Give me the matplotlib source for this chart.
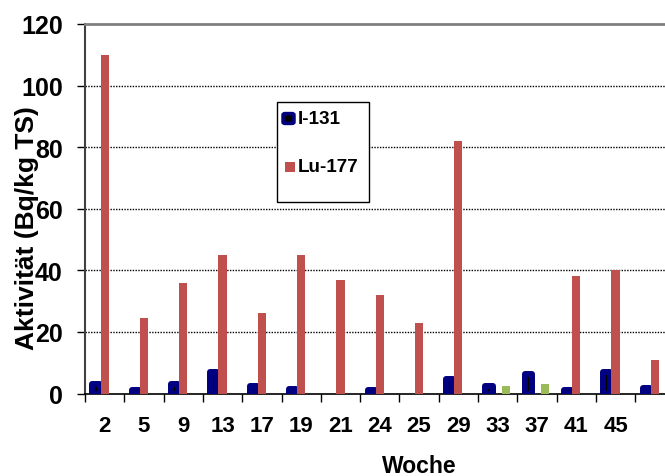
import numpy as np
import matplotlib.pyplot as plt
from matplotlib.patches import Rectangle, FancyBboxPatch

plt.rcParams['font.family'] = ['Liberation Sans', 'DejaVu Sans']
plt.rcParams['font.weight'] = 'bold'

weeks = ['2', '5', '9', '13', '17', '19', '21', '24', '25', '29', '33', '37', '41', '45', '']
i131 = [3.2, 1.2, 3.2, 7.0, 2.3, 1.5, 0, 1.0, 0, 4.7, 2.5, 6.3, 1.2, 7.0, 1.8]
lu177 = [110, 24.5, 36, 45, 26, 45, 37, 32, 23, 82, 0, 0, 38, 40, 11]
other = [0, 0, 0, 0, 0, 0, 0, 0, 0, 0, 2.5, 3.0, 0, 0, 0]

W, H = 665, 477
fig = plt.figure(figsize=(W / 100, H / 100), dpi=100)

def fx(px):
    return px / W

def fy(py):
    return 1 - py / H

# plot area runs past the right edge of the figure
ax = fig.add_axes([fx(85), fy(394.5), 15 * 39.3 / W, (394.5 - 25) / H])

x = np.arange(len(weeks))
blue = ax.bar(x - 0.22, i131, width=0.18, color='black', edgecolor='#000080',
              linewidth=4.3, zorder=3)
for b, v in zip(blue, i131):
    b.set_joinstyle('round')
    if v == 0:
        b.set_visible(False)
ax.bar(x, lu177, width=0.21, color='#C0504D', zorder=4)
ax.bar(x + 0.21, other, width=0.2, color='#9BBB59', zorder=4)

ax.set_xlim(-0.5, len(weeks) - 0.5)
ax.set_ylim(0, 120)
ax.set_yticks(np.arange(0, 121, 20))
ax.tick_params(axis='y', labelsize=18, length=6, width=1, direction='out', pad=10)
ax.set_xticks(x)
ax.set_xticklabels(weeks)
ax.set_xticks(np.arange(-0.5, len(weeks), 1), minor=True)
ax.tick_params(axis='x', which='major', length=0, labelsize=16, pad=15.5)
ax.tick_params(axis='x', which='minor', length=6, width=1, direction='out')

for yv in range(20, 120, 20):
    ax.axhline(yv, color='black', lw=1, ls=(0, (1, 1)), zorder=1)

ax.spines['top'].set_color('#808080')
ax.spines['top'].set_linewidth(2)
ax.spines['left'].set_color('#404040')
ax.spines['left'].set_linewidth(1.5)
ax.spines['bottom'].set_linewidth(1.2)
ax.spines['right'].set_visible(False)

fig.text(fx(27), fy(228), 'Aktivität (Bq/kg TS)', rotation=90, fontsize=19,
         fontweight='bold', ha='center', va='center')
fig.text(fx(419), fy(467), 'Woche', fontsize=16.5, fontweight='bold',
         ha='center', va='center')

# legend box
fig.add_artist(Rectangle((fx(277), fy(203)), fx(369) - fx(277), fy(103) - fy(203),
                         transform=fig.transFigure, facecolor='white',
                         edgecolor='black', lw=1, zorder=10))
fig.add_artist(FancyBboxPatch((fx(285), fy(123)), fx(7), fy(0) - fy(7),
                              boxstyle='round,pad=0.003', transform=fig.transFigure,
                              facecolor='black', edgecolor='#000080', lw=2.5, zorder=11))
fig.add_artist(Rectangle((fx(285), fy(173)), fx(10), fy(0) - fy(10),
                         transform=fig.transFigure, facecolor='#C0504D',
                         edgecolor='none', zorder=11))
fig.text(fx(298), fy(119), 'I-131', fontsize=13.6, fontweight='bold',
         ha='left', va='center', zorder=12)
fig.text(fx(298), fy(168), 'Lu-177', fontsize=13.6, fontweight='bold',
         ha='left', va='center', zorder=12)

fig.savefig('out.png', dpi=100)
